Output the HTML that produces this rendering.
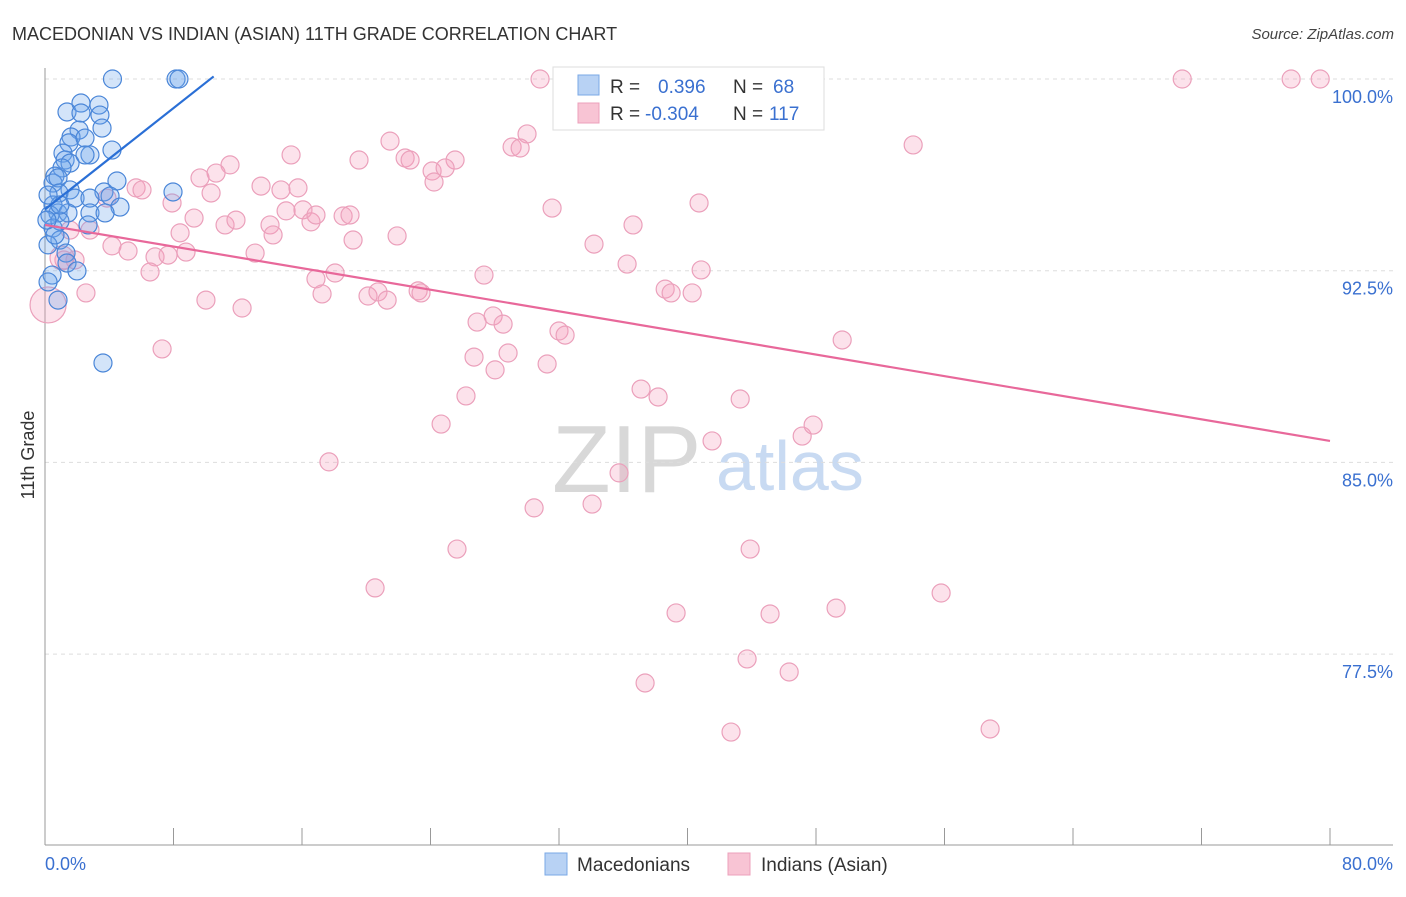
<!DOCTYPE html>
<html><head><meta charset="utf-8"><style>
body{margin:0;background:#fff;font-family:"Liberation Sans",sans-serif}
svg text{font-family:"Liberation Sans",sans-serif}
</style></head><body>
<svg id="chart" width="1406" height="892" xmlns="http://www.w3.org/2000/svg">
<text x="12" y="40" font-size="18" fill="#333">MACEDONIAN VS INDIAN (ASIAN) 11TH GRADE CORRELATION CHART</text>
<text x="1394" y="39" font-size="15" fill="#444" font-style="italic" text-anchor="end">Source: ZipAtlas.com</text>
<text x="552" y="492" font-size="96" fill="#d8d8d8" font-family="Liberation Serif,serif">ZIP</text>
<text x="716" y="490" font-size="70" fill="#c8daf2">atlas</text>
<g id="grid"></g>
<g id="pts"></g>
<g id="lines"></g>
<text transform="translate(34,455) rotate(-90)" font-size="18" fill="#333" text-anchor="middle">11th Grade</text>
<g>
<rect x="553" y="67" width="271" height="63" fill="#fff" stroke="#ddd"/>
<rect x="578" y="75" width="21" height="20" fill="#b8d2f4" stroke="#7aa8e6"/>
<rect x="578" y="103" width="21" height="20" fill="#f8c4d4" stroke="#eca0bb"/>
<text x="610" y="93" font-size="19" fill="#333">R =</text>
<text x="658" y="93" font-size="19" fill="#3a70d0">0.396</text>
<text x="733" y="93" font-size="19" fill="#333">N =</text>
<text x="773" y="93" font-size="19" fill="#3a70d0">68</text>
<text x="610" y="120" font-size="19" fill="#333">R =</text>
<text x="645" y="120" font-size="19" fill="#3a70d0">-0.304</text>
<text x="733" y="120" font-size="19" fill="#333">N =</text>
<text x="769" y="120" font-size="19" fill="#3a70d0">117</text>
</g>
<g>
<rect x="545" y="853" width="22" height="22" fill="#b8d2f4" stroke="#7aa8e6"/>
<text x="577" y="871" font-size="19" fill="#333">Macedonians</text>
<rect x="728" y="853" width="22" height="22" fill="#f8c4d4" stroke="#eca0bb"/>
<text x="761" y="871" font-size="19" fill="#333">Indians (Asian)</text>
</g>
<text x="45" y="870" font-size="18" fill="#3a70d0">0.0%</text>
<text x="1393" y="870" font-size="18" fill="#3a70d0" text-anchor="end">80.0%</text>
</svg>
<script>
const yTicks=[100,92.5,85,77.5];
const yTickLabels=["100.0%","92.5%","85.0%","77.5%"];
const xTicks=[0,8,16,24,32,40,48,56,64,72,80];
const blueX=[4.2,8.16,8.34,1.37,2.24,3.36,2.24,3.42,2.12,3.55,1.62,1.49,2.49,4.17,1.12,2.8,1.25,1.56,1.06,0.62,0.5,0.81,1.56,0.87,1.87,3.67,4.48,7.97,4.05,2.8,4.67,0.5,0.81,1.43,0.31,0.5,0.93,2.8,3.74,2.68,0.93,1.31,0.19,1.37,1.99,0.44,0.19,0.81,3.61,0.93,0.19,0.62,0.12,2.49];
const blueY=[100,100,100,98.71,99.06,98.98,98.67,98.59,98,98.08,97.73,97.5,97.69,97.22,97.1,97.03,96.83,96.71,96.52,96.2,95.93,96.13,95.66,95.54,95.34,95.58,96.01,95.58,95.42,95.34,94.99,95.07,94.76,94.76,94.68,94.17,94.44,94.76,94.76,94.29,93.7,93.19,93.51,92.8,92.49,92.33,92.06,91.35,88.89,95.07,95.46,93.9,94.48,97.03];
const pinkX=[30.82,70.8,77.58,79.39,46.7,54.05,21.48,30.01,29.08,29.58,15.32,19.55,22.42,22.73,25.53,24.1,24.91,24.22,11.52,10.65,9.65,13.45,14.69,15.75,5.67,6.04,7.91,10.34,3.86,15.01,16.06,11.21,9.28,8.41,11.89,14.01,14.2,16.56,16.87,18.56,18.99,19.18,21.92,31.57,40.72,36.61,34.18,4.17,5.17,6.85,7.66,8.78,13.08,6.54,2.8,1.56,1.87,1.18,2.55,10.02,12.27,16.87,17.25,18.06,20.11,20.73,21.3,23.23,23.41,27.33,36.24,40.85,38.61,38.98,40.29,26.9,27.9,28.52,32,32.38,26.71,28.02,28.83,31.26,49.63,7.29,26.21,37.11,38.17,43.28,24.66,41.53,47.14,47.82,17.68,35.74,30.45,34.06,25.65,43.9,20.55,39.29,45.14,49.25,55.79,43.71,46.33,37.36,42.71,58.84,0.19,1.06];
const pinkY=[100,100,100,100,100,97.42,97.57,97.85,97.34,97.3,97.03,96.83,96.91,96.83,96.83,96.4,96.52,95.97,96.64,96.32,96.13,95.81,95.66,95.74,95.74,95.66,95.15,95.54,95.34,94.84,94.88,94.29,94.56,93.98,94.48,94.29,93.9,94.41,94.68,94.64,94.68,93.7,93.86,94.95,95.15,94.29,93.54,93.47,93.27,93.04,93.11,93.23,93.19,92.45,94.09,94.09,92.92,92.92,91.63,91.35,91.04,92.18,91.59,92.41,91.51,91.67,91.35,91.71,91.63,92.33,92.76,92.53,91.78,91.63,91.63,90.49,90.73,90.41,90.14,89.98,89.12,88.62,89.28,88.85,89.79,89.44,87.6,87.87,87.56,87.48,86.5,85.84,86.03,86.46,85.02,84.59,83.22,83.37,81.61,81.61,80.09,79.11,79.07,79.3,79.89,77.31,76.8,76.37,74.45,74.57,91.16,93.0];
const pinkR=[];pinkR[110]=18;pinkR[111]=12;
const blueTrend=[[0,94.9],[10.5,100.1]];
const pinkTrend=[[0,94.29],[80,85.84]];
const NS="http://www.w3.org/2000/svg";
const X=v=>45+v/80*1285;
const Y=v=>79+(100-v)/7.5*191.7;
function mk(tag,attrs,parent){const e=document.createElementNS(NS,tag);for(const k in attrs)e.setAttribute(k,attrs[k]);parent.appendChild(e);return e;}
const grid=document.getElementById('grid');
yTicks.forEach((t,i)=>{
  const l=mk('line',{x1:45,x2:1393,y1:Y(t),y2:Y(t),stroke:'#ddd','stroke-dasharray':'4,4'},grid);
  
  
  const tx=mk('text',{x:1393,y:Y(t)+24,'font-size':18,fill:'#3a70d0','text-anchor':'end'},grid);
  tx.textContent=yTickLabels[i];
  
  
});
const ax=mk('line',{x1:45,x2:45,y1:68,y2:845,stroke:'#999'},grid);


const bx=mk('line',{x1:45,x2:1393,y1:845,y2:845,stroke:'#999'},grid);


xTicks.forEach(t=>{
  const l=mk('line',{x1:X(t),x2:X(t),y1:828,y2:845,stroke:'#999'},grid);
  
  
});
const pts=document.getElementById('pts');
pinkX.forEach((v,i)=>{
  const c=mk('circle',{cx:X(v),cy:Y(pinkY[i]),r:pinkR[i]||9,fill:'rgba(244,160,190,0.3)',stroke:'#eba0bb','stroke-width':1.2},pts);
  
  
});
blueX.forEach((v,i)=>{
  const c=mk('circle',{cx:X(v),cy:Y(blueY[i]),r:9,fill:'rgba(110,165,235,0.3)',stroke:'#4a86d8','stroke-width':1.2},pts);
  
  
});
const lines=document.getElementById('lines');
const bl=mk('line',{x1:X(blueTrend[0][0]),y1:Y(blueTrend[0][1]),x2:X(blueTrend[1][0]),y2:Y(blueTrend[1][1]),stroke:'#2a6fd6','stroke-width':2.2},lines);


const pl=mk('line',{x1:X(pinkTrend[0][0]),y1:Y(pinkTrend[0][1]),x2:X(pinkTrend[1][0]),y2:Y(pinkTrend[1][1]),stroke:'#e8689a','stroke-width':2.2},lines);


</script>
</body></html>
